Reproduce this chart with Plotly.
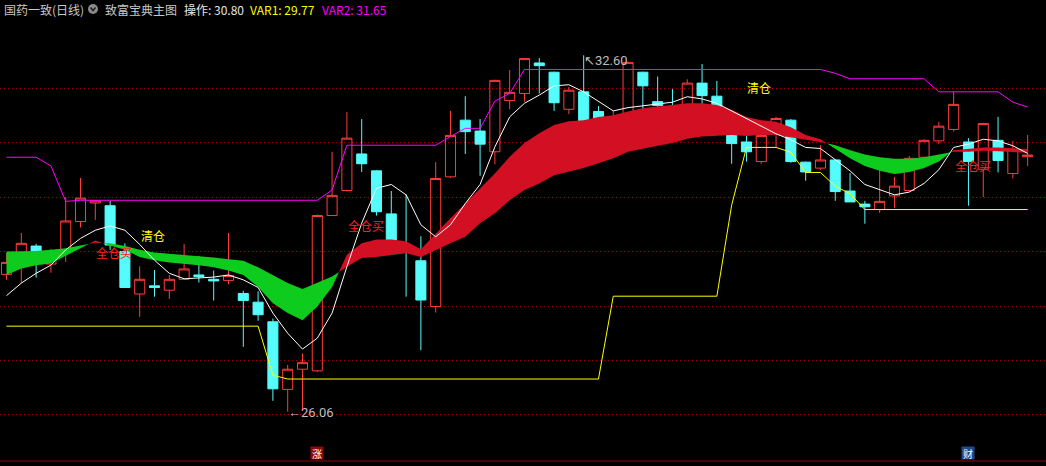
import plotly.graph_objects as go

W, H = 1046, 466

# ---------------- data ----------------
idx = list(range(70))
opens = [28.58, 28.91, 29.10, 28.77, 29.03, 29.55, 29.89, 29.84, 29.00, 28.22,
         28.37, 28.29, 28.49, 28.57, 28.49, 28.47, 28.23, 28.07, 27.71, 26.47,
         26.84, 26.81, 29.66, 30.12, 30.79, 30.48, 29.69, 29.12, 28.83, 27.99,
         30.37, 31.41, 31.21, 30.83, 31.77, 31.90, 32.46, 32.29, 31.61, 31.93,
         31.57, 31.13, 31.36, 32.29, 31.75, 31.60, 31.40, 32.09, 31.85, 31.54,
         31.01, 30.65, 31.24, 31.41, 30.64, 30.53, 30.68, 30.11, 29.87, 29.77,
         30.02, 30.12, 30.73, 31.03, 31.24, 31.01, 30.51, 31.04, 30.43, 30.74]
highs = [28.97, 29.34, 29.14, 29.05, 30.00, 30.35, 29.93, 29.93, 29.15, 28.73,
         28.66, 28.57, 29.14, 28.92, 28.65, 29.34, 28.28, 28.27, 27.77, 26.92,
         27.13, 29.68, 30.83, 31.56, 31.43, 30.49, 30.11, 30.05, 29.28, 30.64,
         31.58, 31.85, 31.43, 32.15, 32.33, 32.55, 32.55, 32.30, 32.02, 32.60,
         31.67, 31.58, 32.48, 32.30, 32.21, 31.98, 32.16, 32.44, 32.13, 31.55,
         31.39, 31.24, 31.47, 31.43, 30.65, 30.95, 30.69, 30.44, 29.93, 30.57,
         30.37, 30.75, 31.06, 31.38, 31.93, 31.08, 31.36, 31.47, 31.03, 31.14]
lows = [28.48, 28.42, 28.52, 28.61, 28.81, 29.44, 29.58, 29.03, 28.33, 27.80,
        28.17, 28.13, 28.48, 28.43, 28.10, 28.40, 27.25, 27.73, 26.26, 26.06,
        26.08, 26.79, 29.65, 30.10, 30.46, 29.66, 29.10, 28.17, 27.19, 27.88,
        30.35, 30.79, 30.39, 30.60, 31.61, 31.75, 31.90, 31.58, 31.52, 31.12,
        31.05, 30.94, 31.22, 31.46, 31.62, 31.30, 31.31, 31.60, 31.55, 30.61,
        30.65, 30.61, 30.91, 30.63, 30.30, 30.50, 29.93, 29.91, 29.51, 29.71,
        29.80, 30.10, 30.59, 30.97, 31.20, 29.84, 30.00, 30.45, 30.34, 30.57]
closes = [28.80, 29.15, 28.80, 28.99, 29.56, 29.98, 29.93, 29.12, 28.34, 28.49,
          28.34, 28.49, 28.68, 28.54, 28.46, 28.56, 28.10, 27.84, 26.48, 26.84,
          26.96, 29.66, 30.03, 31.08, 30.61, 29.73, 29.17, 29.09, 28.11, 30.34,
          31.13, 31.20, 30.97, 32.14, 31.92, 32.54, 32.41, 31.73, 31.96, 31.16,
          31.38, 31.46, 32.47, 32.04, 31.68, 31.31, 32.09, 31.86, 31.66, 30.98,
          30.83, 31.13, 31.44, 30.65, 30.46, 30.68, 30.10, 29.91, 29.82, 29.92,
          30.20, 30.71, 31.04, 31.30, 31.70, 30.65, 31.35, 30.67, 30.87, 30.77]

# 操作 (white line)
op_line = [28.19, 28.42, 28.60, 28.75, 29.03, 29.24, 29.39, 29.47, 29.39, 29.13,
           28.84, 28.60, 28.50, 28.51, 28.53, 28.57, 28.48, 28.34, 27.87, 27.50,
           27.21, 27.41, 27.87, 28.72, 29.52, 30.16, 30.23, 30.04, 29.49, 29.27,
           29.49, 29.88, 30.23, 30.92, 31.47, 31.72, 31.87, 32.04, 32.06, 31.93,
           31.75, 31.58, 31.64, 31.67, 31.71, 31.74, 31.84, 31.80, 31.72, 31.58,
           31.44, 31.30, 31.16, 31.05, 30.91, 30.89, 30.69, 30.48, 30.23, 30.13,
           30.04, 30.09, 30.25, 30.50, 30.91, 30.97, 31.06, 31.03, 30.94, 30.80]
# VAR1 (yellow)
var1 = [27.63] * 18 + [26.73] + [26.66] * 22 + [28.18] * 8 + [29.85] + \
       [30.91, 30.91, 30.91, 30.82, 30.45, 30.45, 30.20, 30.06] + [29.77] * 12
# VAR2 (magenta)
var2 = [30.73, 30.73, 30.73, 30.57, 29.92] + [29.94] * 17 + [30.13] + [30.95] * 7 + \
       [31.11, 31.26, 31.26, 31.76, 31.90] + [32.34] * 21 + [32.27] + [32.17] * 6 + \
       [31.93] * 5 + [31.74, 31.65]
# ribbon: fast (A) and slow (B)
band_a = [28.57, 28.69, 28.75, 28.78, 28.92, 29.06, 29.20, 29.11, 29.03, 28.90,
          28.84, 28.80, 28.78, 28.75, 28.71, 28.65, 28.57, 28.35, 28.05, 27.87,
          27.74, 27.99, 28.35, 28.94, 29.15, 29.22, 29.22, 29.19, 29.04, 29.33,
          29.61, 29.88, 30.16, 30.43, 30.74, 30.99, 31.17, 31.32, 31.39, 31.41,
          31.47, 31.50, 31.57, 31.63, 31.66, 31.69, 31.72, 31.72, 31.69, 31.60,
          31.47, 31.41, 31.38, 31.28, 31.14, 31.06, 30.88, 30.71, 30.57, 30.48,
          30.42, 30.46, 30.53, 30.65, 30.86, 30.89, 30.91, 30.91, 30.89, 30.88]
band_b = [29.00, 29.00, 29.01, 29.03, 29.06, 29.11, 29.16, 29.15, 29.10, 29.03,
          28.98, 28.96, 28.94, 28.92, 28.89, 28.86, 28.83, 28.71, 28.57, 28.42,
          28.31, 28.42, 28.54, 28.72, 28.88, 28.90, 28.94, 28.97, 28.90, 29.03,
          29.15, 29.27, 29.52, 29.70, 29.94, 30.13, 30.25, 30.40, 30.46, 30.53,
          30.62, 30.71, 30.83, 30.89, 30.94, 30.99, 31.07, 31.11, 31.12, 31.14,
          31.12, 31.14, 31.14, 31.10, 31.05, 31.01, 30.95, 30.86, 30.78, 30.73,
          30.70, 30.70, 30.73, 30.78, 30.83, 30.83, 30.85, 30.84, 30.83, 30.81]

# signals
sig_idx = [6, 9, 23, 50, 64]
sig_text = ["全仓买", "清仓", "全仓买", "清仓", "全仓买"]
sig_price = [28.99, 29.30, 29.47, 32.01, 30.57]

grid_levels = [26, 27, 28, 29, 30, 31, 32]
y_range = [25.064, 33.615]
x_range = [-0.44, 70.24]

title_parts = [("国药一致(日线)", "#C8C8C8", 2), ("致富宝典主图", "#C8C8C8", 103),
               ("操作: 30.80", "#E6E6E6", 182), ("VAR1: 29.77", "#FFFF00", 248),
               ("VAR2: 31.65", "#FF00FF", 320)]

# ---------------- styles ----------------
RED_BAND = "#D20F23"
GREEN_BAND = "#0ECC1E"
CANDLE_RED = "#FF3C3C"
CANDLE_CYAN = "#54FCFC"
FONT = "Noto Sans CJK SC"

fig = go.Figure()


def with_crossings(xs, a, b):
    X, A, B = [], [], []
    for i in range(len(xs)):
        if i > 0:
            d0 = a[i - 1] - b[i - 1]
            d1 = a[i] - b[i]
            if d0 * d1 < 0:
                t = d0 / (d0 - d1)
                xc = xs[i - 1] + t * (xs[i] - xs[i - 1])
                yc = a[i - 1] + t * (a[i] - a[i - 1])
                X.append(xc); A.append(yc); B.append(yc)
        X.append(xs[i]); A.append(a[i]); B.append(b[i])
    return X, A, B


X, A, B = with_crossings(idx, band_a, band_b)
red_lo = B
red_hi = [max(p, q) for p, q in zip(A, B)]
green_lo = [min(p, q) for p, q in zip(A, B)]
green_hi = B

for lo, hi, col in [(red_lo, red_hi, RED_BAND), (green_lo, green_hi, GREEN_BAND)]:
    fig.add_trace(go.Scatter(x=X, y=lo, mode="lines", line=dict(width=0, color=col),
                             hoverinfo="skip", showlegend=False))
    fig.add_trace(go.Scatter(x=X, y=hi, mode="lines", line=dict(width=0, color=col),
                             fill="tonexty", fillcolor=col, hoverinfo="skip",
                             showlegend=False))

fig.add_trace(go.Candlestick(
    x=idx, open=opens, high=highs, low=lows, close=closes,
    increasing=dict(line=dict(color=CANDLE_RED, width=1), fillcolor="rgba(0,0,0,0)"),
    decreasing=dict(line=dict(color=CANDLE_CYAN, width=1), fillcolor=CANDLE_CYAN),
    whiskerwidth=0, showlegend=False, hoverinfo="skip"))

fig.add_trace(go.Scatter(x=idx, y=var1, mode="lines", line=dict(color="#FFFF00", width=1),
                         hoverinfo="skip", showlegend=False))
fig.add_trace(go.Scatter(x=idx, y=var2, mode="lines", line=dict(color="#FF00FF", width=1),
                         hoverinfo="skip", showlegend=False))
fig.add_trace(go.Scatter(x=idx, y=op_line, mode="lines", line=dict(color="#FFFFFF", width=1),
                         hoverinfo="skip", showlegend=False))

annotations = []
for i, t, p in zip(sig_idx, sig_text, sig_price):
    col = "#FFFF00" if t == "清仓" else "#FF2020"
    annotations.append(dict(x=i, y=p, xref="x", yref="y", text=t, showarrow=False,
                            xanchor="left", yanchor="middle", xshift=-1,
                            font=dict(family=FONT, size=12, color=col)))

# high / low markers
lo_i = lows.index(min(lows))
hi_i = highs.index(max(highs))
annotations.append(dict(x=lo_i, y=lows[lo_i], xref="x", yref="y",
                        text="←%.2f" % lows[lo_i], showarrow=False, xanchor="left",
                        yanchor="middle", xshift=-2, yshift=-1,
                        font=dict(family="Roboto", size=13, color="#BEBEBE")))
annotations.append(dict(x=hi_i, y=highs[hi_i], xref="x", yref="y",
                        text="↖%.2f" % highs[hi_i], showarrow=False, xanchor="left",
                        yanchor="middle", xshift=-2, yshift=-5,
                        font=dict(family="Roboto", size=13, color="#BEBEBE")))

# header
for txt, col, px in title_parts:
    annotations.append(dict(x=px / W, y=1 - 9 / H, xref="paper", yref="paper", text=txt,
                            showarrow=False, xanchor="left", yanchor="middle",
                            font=dict(family=FONT, size=12, color=col)))

# bottom icons
for i, t, bg in [(21, "涨", "#8C0A0A"), (65, "财", "#1E4A8C")]:
    annotations.append(dict(x=i, y=1 - 453 / H, xref="x", yref="paper", text=t,
                            showarrow=False, xanchor="center", yanchor="middle",
                            width=12, height=12, bgcolor=bg, borderpad=0,
                            font=dict(family=FONT, size=10, color="#FFFFFF")))

shapes = [
    dict(type="circle", xref="paper", yref="paper", x0=88 / W, x1=98 / W,
         y0=1 - 14 / H, y1=1 - 4 / H, fillcolor="#8A8A8A", line=dict(width=0)),
    dict(type="path", xref="paper", yref="paper",
         path="M %f,%f L %f,%f L %f,%f" % (90.5 / W, 1 - 7.5 / H, 93 / W, 1 - 10.5 / H,
                                          95.5 / W, 1 - 7.5 / H),
         line=dict(color="#202020", width=1.5)),
    dict(type="line", xref="paper", yref="paper", x0=0, x1=1, y0=1 - 461 / H,
         y1=1 - 461 / H, line=dict(color="#A00000", width=1)),
]

fig.update_layout(
    width=W, height=H, margin=dict(l=0, r=0, t=0, b=0),
    paper_bgcolor="#000000", plot_bgcolor="#000000", showlegend=False,
    boxgap=0.32, boxgroupgap=0,
    xaxis=dict(range=x_range, showgrid=False, zeroline=False, showticklabels=False,
               rangeslider=dict(visible=False), fixedrange=True),
    yaxis=dict(range=y_range, tickvals=grid_levels, showgrid=True, gridcolor="#A00000",
               griddash="1px,3px", gridwidth=1, zeroline=False, showticklabels=False,
               fixedrange=True),
    annotations=annotations, shapes=shapes,
)

fig.write_html("out.html", config={"displayModeBar": False},
               post_script="document.body.style.margin='0';"
                           "document.body.style.background='#000';")
